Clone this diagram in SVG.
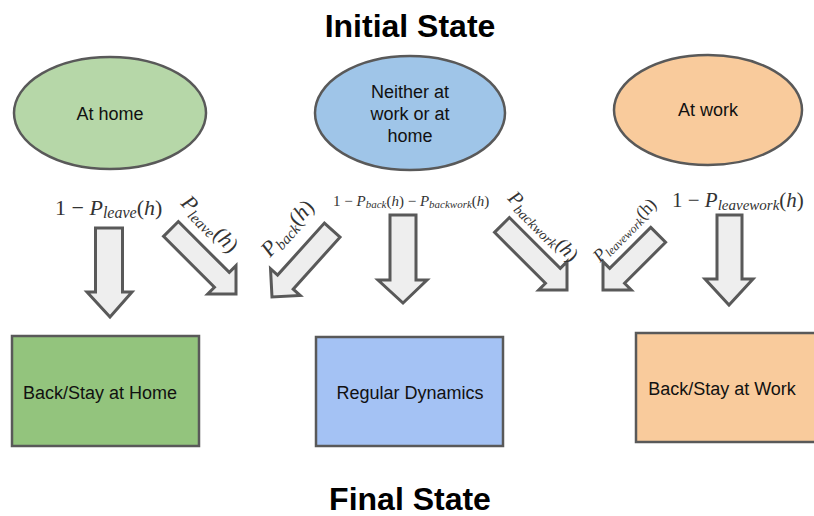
<svg xmlns="http://www.w3.org/2000/svg" width="814" height="516" viewBox="0 0 814 516">
<style>
.title{font-family:"Liberation Sans",Arial,sans-serif;font-weight:bold;font-size:32px;fill:#000;text-anchor:middle}
.lbl{font-family:"Liberation Sans",Arial,sans-serif;font-size:18px;fill:#111;text-anchor:middle}
.node{stroke:#595959;stroke-width:2.5}
.arr{fill:#eeeeee;stroke:#595959;stroke-width:3;stroke-linejoin:miter}
.math{font-family:"Liberation Serif","Times New Roman",serif;fill:#333}
.it{font-style:italic}
</style>
<text class="title" x="410" y="37">Initial State</text>
<text class="title" x="410" y="510">Final State</text>

<g id="at-home">
<ellipse class="node" cx="110" cy="113" rx="96" ry="56" fill="#b6d7a8"/>
<text class="lbl" x="110" y="120">At home</text>
</g>
<g id="neither">
<ellipse class="node" cx="410" cy="113" rx="95" ry="57" fill="#9fc5e8"/>
<text class="lbl" x="410" y="98">Neither at</text>
<text class="lbl" x="410" y="120">work or at</text>
<text class="lbl" x="410" y="142">home</text>
</g>
<g id="at-work">
<ellipse class="node" cx="708" cy="110" rx="94" ry="55" fill="#f9cb9c"/>
<text class="lbl" x="708" y="116">At work</text>
</g>

<g id="stay-home">
<rect class="node" x="12" y="336" width="187" height="110" fill="#93c47d"/>
<text class="lbl" x="100" y="399">Back/Stay at Home</text>
</g>
<g id="regular">
<rect class="node" x="316" y="337" width="187" height="109" fill="#a4c2f4"/>
<text class="lbl" x="410" y="399">Regular Dynamics</text>
</g>
<g id="stay-work">
<rect class="node" x="636" y="333" width="190" height="109" fill="#f9cb9c"/>
<text class="lbl" x="722" y="395">Back/Stay at Work</text>
</g>

<g id="connectors">
<path class="arr" d="M95.5,228 H122.5 V292 H132 L110,317 L87,292 H95.5 Z"/>
<path class="arr" d="M390,215 H416 V280 H427 L403,303 L378,280 H390 Z"/>
<path class="arr" d="M717,215 H742 V279 H753 L729,305 L705,279 H717 Z"/>
<g transform="translate(236,294) rotate(-45)"><path class="arr" d="M-10.5,-92 H10.5 V-20 H20 L0,0 L-20,-20 H-10.5 Z"/></g>
<g transform="translate(272,297) rotate(42)"><path class="arr" d="M-10.5,-90 H10.5 V-20 H20 L0,0 L-20,-20 H-10.5 Z"/></g>
<g transform="translate(567,290) rotate(-45)"><path class="arr" d="M-10.5,-92 H10.5 V-20 H20 L0,0 L-20,-20 H-10.5 Z"/></g>
<g transform="translate(603,290) rotate(45)"><path class="arr" d="M-10.5,-78 H10.5 V-20 H20 L0,0 L-20,-20 H-10.5 Z"/></g>

<text class="math" x="55" y="215" font-size="22">1 − <tspan class="it">P</tspan><tspan class="it" font-size="16" dy="3">leave</tspan><tspan dy="-3">(</tspan><tspan class="it">h</tspan>)</text>
<text class="math" x="333" y="206" font-size="15">1 − <tspan class="it">P</tspan><tspan class="it" font-size="11" dy="2">back</tspan><tspan dy="-2">(</tspan><tspan class="it">h</tspan>) − <tspan class="it">P</tspan><tspan class="it" font-size="11" dy="2">backwork</tspan><tspan dy="-2">(</tspan><tspan class="it">h</tspan>)</text>
<text class="math" x="672" y="207" font-size="21">1 − <tspan class="it">P</tspan><tspan class="it" font-size="15" dy="3">leavework</tspan><tspan dy="-3">(</tspan><tspan class="it">h</tspan>)</text>

<text class="math" transform="translate(180,204) rotate(45)" font-size="22"><tspan class="it">P</tspan><tspan class="it" font-size="15" dy="4">leave</tspan><tspan dy="-4">(</tspan><tspan class="it">h</tspan>)</text>
<text class="math" transform="translate(270,258) rotate(-48)" font-size="22"><tspan class="it">P</tspan><tspan class="it" font-size="15" dy="4">back</tspan><tspan dy="-4">(</tspan><tspan class="it">h</tspan>)</text>
<text class="math" transform="translate(507,199) rotate(45)" font-size="20"><tspan class="it">P</tspan><tspan class="it" font-size="14" dy="4">backwork</tspan><tspan dy="-4">(</tspan><tspan class="it">h</tspan>)</text>
<text class="math" transform="translate(600,263) rotate(-45)" font-size="18"><tspan class="it">P</tspan><tspan class="it" font-size="12" dy="3">leavework</tspan><tspan dy="-3">(</tspan>h)</text>
</g>
</svg>
